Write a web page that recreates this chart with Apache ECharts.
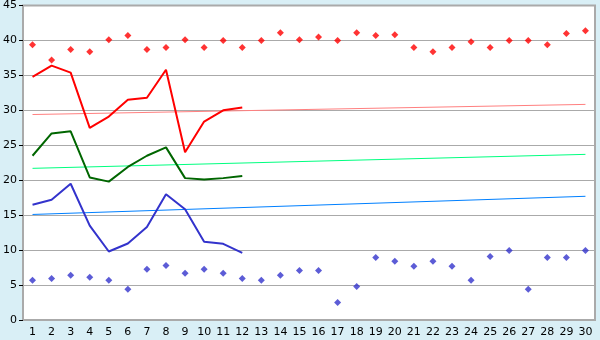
<!DOCTYPE html>
<html><head><meta charset="utf-8">
<script src="https://cdn.jsdelivr.net/npm/echarts@6/dist/echarts.min.js"></script>
<style>html,body{margin:0;padding:0;background:#d9eff6;}#c{width:600px;height:340px;}</style>
</head><body><div id="c"></div>
<script>
const days = ['1','2','3','4','5','6','7','8','9','10','11','12','13','14','15','16','17','18','19','20','21','22','23','24','25','26','27','28','29','30'];
const yTicks = [0,5,10,15,20,25,30,35,40,45];
const maxPoints = [39.4,37.2,38.7,38.4,40.1,40.7,38.7,39.0,40.1,39.0,40.0,39.0,40.0,41.1,40.1,40.5,40.0,41.1,40.7,40.8,39.0,38.4,39.0,39.8,39.0,40.0,40.0,39.4,41.0,41.4];
const minPoints = [5.7,5.95,6.4,6.1,5.7,4.4,7.25,7.8,6.7,7.25,6.7,5.95,5.7,6.4,7.1,7.1,2.5,4.8,8.95,8.4,7.7,8.4,7.7,5.7,9.1,9.95,4.4,8.95,8.95,9.95];
const redLine = [34.8,36.4,35.4,27.5,29.1,31.5,31.8,35.8,24.0,28.4,30.0,30.4];
const greenLine = [23.5,26.7,27.0,20.4,19.8,21.9,23.5,24.7,20.3,20.1,20.3,20.6];
const blueLine = [16.5,17.2,19.5,13.5,9.8,10.95,13.3,18.0,15.85,11.2,10.9,9.6];
const redTrend = [29.4,30.85];
const greenTrend = [21.7,23.7];
const blueTrend = [15.1,17.7];

const chart = echarts.init(document.getElementById('c'), null, {renderer:'canvas'});
const font = 'DejaVu Sans';
function trend(vals, color){
  return {type:'line', data:[[days[0], vals[0]],[days[days.length-1], vals[1]]], symbol:'none', silent:true,
    lineStyle:{color:color, width:1}, z:2, animation:false};
}
chart.setOption({
  backgroundColor:'#d9eff6',
  animation:false,
  grid:{left:20, top:5, right:5, bottom:20, show:true, backgroundColor:'#ffffff', borderColor:'#aaaaaa', borderWidth:2},
  xAxis:{type:'category', data:days, boundaryGap:true,
    axisLine:{lineStyle:{color:'#aaaaaa', width:1}},
    axisTick:{alignWithLabel:true, length:5, lineStyle:{color:'#000'}},
    axisLabel:{color:'#000', fontFamily:font, fontSize:11, margin:7, interval:0},
    splitLine:{show:false}},
  yAxis:{type:'value', min:yTicks[0], max:yTicks[yTicks.length-1], interval:5,
    axisLine:{show:true, lineStyle:{color:'#aaaaaa'}},
    axisTick:{show:true, length:4, lineStyle:{color:'#000'}},
    axisLabel:{color:'#000', fontFamily:font, fontSize:11, margin:6},
    splitLine:{lineStyle:{color:'#aaaaaa', width:1}}},
  series:[
    trend(redTrend,'#ff8080'),
    trend(greenTrend,'#00ff80'),
    trend(blueTrend,'#0080ff'),
    {type:'line', data:redLine, symbol:'none', lineStyle:{color:'#ff0000', width:2}, z:3},
    {type:'line', data:greenLine, symbol:'none', lineStyle:{color:'#006600', width:2}, z:3},
    {type:'line', data:blueLine, symbol:'none', lineStyle:{color:'#3333cc', width:2}, z:3},
    {type:'scatter', data:maxPoints, symbol:'diamond', symbolSize:7, itemStyle:{color:'#ff0000'}, z:4},
    {type:'scatter', data:minPoints, symbol:'diamond', symbolSize:7, itemStyle:{color:'#3333cc'}, z:4}
  ]
});
</script></body></html>
